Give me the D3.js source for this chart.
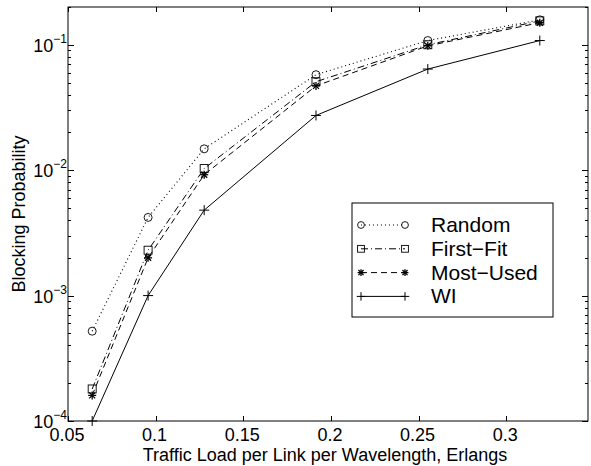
<!DOCTYPE html>
<html><head><meta charset="utf-8">
<script src="https://cdn.jsdelivr.net/npm/d3@7"></script>
<style>
body{margin:0;background:#fff;}
text{font-family:"Liberation Sans",Arial,Helvetica,sans-serif;fill:#000;}
</style></head>
<body><svg id="c" width="591" height="466"></svg>
<script>
const loads = [0.0638, 0.0957, 0.1277, 0.1915, 0.2553, 0.3192];
const random = [5.2e-4, 4.2e-3, 0.0148, 0.0577, 0.108, 0.158];
const firstFit = [1.8e-4, 2.3e-3, 0.0103, 0.0507, 0.100, 0.155];
const mostUsed = [1.6e-4, 2.0e-3, 0.0092, 0.0470, 0.098, 0.150];
const wi = [1.0e-4, 1.0e-3, 0.0048, 0.0273, 0.064, 0.108];
const xTicks = [0.05, 0.1, 0.15, 0.2, 0.25, 0.3];
const xTickLabels = ["0.05", "0.1", "0.15", "0.2", "0.25", "0.3"];
const yTicks = [1e-4, 1e-3, 1e-2, 1e-1];
const yTickExps = ["−4", "−3", "−2", "−1"];
const seriesNames = ["Random", "First−Fit", "Most−Used", "WI"];

const series = [
  {name: seriesNames[0], vals: random, dash: "1,3", marker: "circle"},
  {name: seriesNames[1], vals: firstFit, dash: "7,3,1,3", marker: "square"},
  {name: seriesNames[2], vals: mostUsed, dash: "6,4", marker: "star"},
  {name: seriesNames[3], vals: wi, dash: null, marker: "plus"}
];

const L = 68, R = 588, T = 7, B = 421;
const x = d3.scaleLinear().domain([0.05, 0.3467]).range([L, R]);
const y = d3.scaleLog().domain([1e-4, 0.2]).range([B, T]);
const svg = d3.select("#c");

// box
svg.append("rect").attr("x", L).attr("y", T).attr("width", R - L).attr("height", B - T)
  .attr("fill", "none").attr("stroke", "#000").attr("stroke-width", 1);

// x ticks (inward, bottom and top)
const gx = svg.append("g");
xTicks.forEach((t, i) => {
  const px = Math.round(x(t)) + 0.5;
  gx.append("line").attr("x1", px).attr("x2", px).attr("y1", B).attr("y2", B - 5).attr("stroke", "#000");
  gx.append("line").attr("x1", px).attr("x2", px).attr("y1", T).attr("y2", T + 5).attr("stroke", "#000");
  gx.append("text").attr("x", x(t) - 1).attr("y", 441).attr("text-anchor", "middle")
    .attr("font-size", 18).text(xTickLabels[i]);
});

// y ticks
const gy = svg.append("g");
yTicks.forEach((t, i) => {
  const py = Math.round(y(t)) + 0.5;
  gy.append("line").attr("x1", L).attr("x2", L + 6).attr("y1", py).attr("y2", py).attr("stroke", "#000");
  gy.append("line").attr("x1", R).attr("x2", R - 6).attr("y1", py).attr("y2", py).attr("stroke", "#000");
  const tx = gy.append("text").attr("x", 67).attr("y", y(t) + 7).attr("text-anchor", "end").attr("font-size", 18);
  tx.append("tspan").text("10");
  tx.append("tspan").attr("font-size", 12).attr("dy", -9).text(yTickExps[i]);
  if (t < 0.2) {
    for (let m = 2; m <= 9; m++) {
      const v = t * m;
      if (v > 0.2) break;
      const my = Math.round(y(v)) + 0.5;
      gy.append("line").attr("x1", L).attr("x2", L + 3).attr("y1", my).attr("y2", my).attr("stroke", "#000");
      gy.append("line").attr("x1", R).attr("x2", R - 3).attr("y1", my).attr("y2", my).attr("stroke", "#000");
    }
  }
});

// axis labels
svg.append("text").attr("x", 325).attr("y", 461).attr("text-anchor", "middle")
  .attr("font-size", 18).text("Traffic Load per Link per Wavelength, Erlangs");
svg.append("text").attr("transform", `translate(25,${(T + B) / 2}) rotate(-90)`)
  .attr("text-anchor", "middle").attr("font-size", 18).text("Blocking Probability");

function drawMarker(g, type, cx, cy, sc) {
  sc = sc || 1;
  if (type === "circle") {
    g.append("circle").attr("cx", cx).attr("cy", cy).attr("r", 4 * sc).attr("fill", "none").attr("stroke", "#000").attr("stroke-width", 0.9);
  } else if (type === "square") {
    const h = 4 * sc;
    g.append("rect").attr("x", cx - h).attr("y", cy - h).attr("width", 2 * h).attr("height", 2 * h).attr("fill", "none").attr("stroke", "#000").attr("stroke-width", 0.9);
  } else if (type === "star") {
    const s = 4 * sc;
    [[-s, 0, s, 0], [0, -s, 0, s], [-s * 0.75, -s * 0.75, s * 0.75, s * 0.75], [-s * 0.75, s * 0.75, s * 0.75, -s * 0.75]].forEach(d => {
      g.append("line").attr("x1", cx + d[0]).attr("y1", cy + d[1]).attr("x2", cx + d[2]).attr("y2", cy + d[3]).attr("stroke", "#000").attr("stroke-width", 1.3);
    });
  } else if (type === "plus") {
    const s = 5 * sc;
    g.append("line").attr("x1", cx - s).attr("x2", cx + s).attr("y1", cy).attr("y2", cy).attr("stroke", "#000");
    g.append("line").attr("x1", cx).attr("x2", cx).attr("y1", cy - s).attr("y2", cy + s).attr("stroke", "#000");
  }
}

const line = d3.line().x(d => x(d[0])).y(d => y(d[1]));
const gData = svg.append("g");
series.forEach(s => {
  const pts = loads.map((l, i) => [l, s.vals[i]]);
  gData.append("path").attr("d", line(pts)).attr("fill", "none").attr("stroke", "#000")
    .attr("stroke-width", s.marker === "circle" ? 1.1 : 1)
    .attr("stroke-dasharray", s.dash);
  pts.forEach(p => drawMarker(gData, s.marker, x(p[0]), y(p[1])));
});

// legend
const lg = svg.append("g");
lg.append("rect").attr("x", 352).attr("y", 203).attr("width", 201).attr("height", 114)
  .attr("fill", "#fff").attr("stroke", "#000");
series.forEach((s, i) => {
  const ly = 225 + i * 23.8;
  lg.append("line").attr("x1", 361).attr("x2", 405).attr("y1", ly).attr("y2", ly)
    .attr("stroke", "#000").attr("stroke-dasharray", s.dash);
  drawMarker(lg, s.marker, 361, ly, 0.85);
  drawMarker(lg, s.marker, 405, ly, 0.85);
  lg.append("text").attr("x", 431).attr("y", ly + 7).attr("font-size", 21).text(s.name);
});
</script></body></html>
